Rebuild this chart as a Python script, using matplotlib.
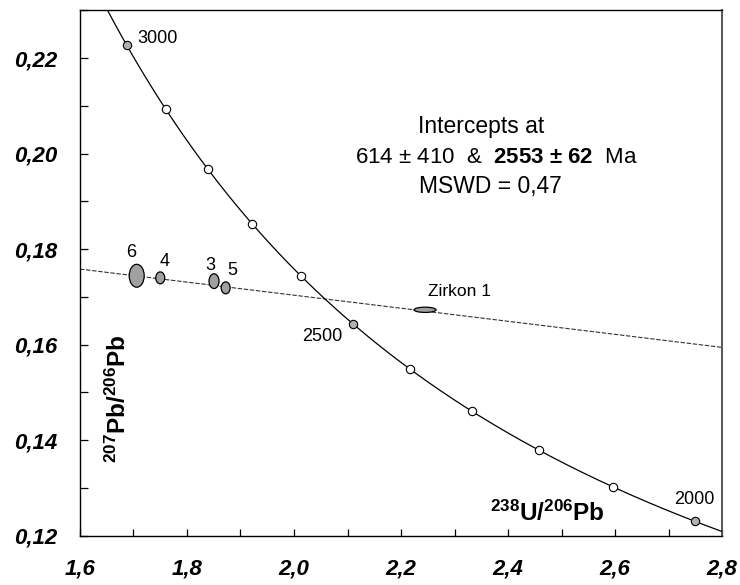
import numpy as np
import matplotlib
matplotlib.use("Agg")
import matplotlib.pyplot as plt
from matplotlib.patches import Ellipse
from matplotlib.ticker import MultipleLocator, FuncFormatter

plt.rcParams['font.family'] = ['Liberation Sans', 'DejaVu Sans']
plt.rcParams['mathtext.fontset'] = 'custom'
plt.rcParams['mathtext.rm'] = 'Liberation Sans'
plt.rcParams['mathtext.bf'] = 'Liberation Sans:bold'
plt.rcParams['mathtext.it'] = 'Liberation Sans:italic'

# ---- data ----
# decay constants (per Ma) and 238U/235U ratio used for the concordia curve
lambda238 = 1.55125e-4
lambda235 = 9.8485e-4
u_ratio = 137.88
concordia_ages = [2000, 2100, 2200, 2300, 2400, 2500, 2600, 2700, 2800, 2900, 3000]
labelled_ages = [2000, 2500, 3000]
curve_age_range = [1950, 3100]

# discordia line (x, y at the axis edges)
discordia_x = [1.6, 2.8]
discordia_y = [0.1758, 0.1594]

# analyses (error ellipses): centre x, centre y, full width, full height
spot_names = ['6', '4', '3', '5', 'Zirkon 1']
spot_x = [1.706, 1.750, 1.8505, 1.8723, 2.245]
spot_y = [0.1744, 0.17396, 0.17327, 0.17187, 0.16727]
spot_w = [0.028, 0.0168, 0.0187, 0.0168, 0.041]
spot_h = [0.0048, 0.0025, 0.0031, 0.0025, 0.0011]

x_ticks = [1.6, 1.8, 2.0, 2.2, 2.4, 2.6, 2.8]
y_ticks = [0.12, 0.14, 0.16, 0.18, 0.20, 0.22]


def concordia(t):
    t = np.asarray(t, dtype=float)
    e238 = np.exp(lambda238 * t) - 1.0
    e235 = np.exp(lambda235 * t) - 1.0
    return 1.0 / e238, e235 / e238 / u_ratio


fig = plt.figure(figsize=(7.4, 5.85), dpi=100)
ax = fig.add_axes([80 / 740, 1 - 535.5 / 585, 642 / 740, 525.2 / 585])

# concordia curve
ages_fine = np.linspace(curve_age_range[0], curve_age_range[1], 600)
cx, cy = concordia(ages_fine)
ax.plot(cx, cy, color='black', lw=0.9, zorder=3)

# discordia
ax.plot(discordia_x, discordia_y, color='#333333', lw=0.8,
        linestyle=(0, (4, 1.5)), zorder=2)

# age markers
mx, my = concordia(concordia_ages)
for a, x, y in zip(concordia_ages, mx, my):
    fc = '#b0b0b0' if a in labelled_ages else 'white'
    ax.plot([x], [y], 'o', ms=6, mfc=fc, mec='black', mew=0.8, zorder=5)

age_offsets = {3000: (22, 5), 2500: (-22, -9), 2000: (0, 16)}
for a in labelled_ages:
    x, y = concordia(a)
    ax.annotate(str(a), (x, y), xytext=age_offsets[a], textcoords='offset points',
                ha='center', va='center', fontsize=13, zorder=6)

# ellipses
label_offsets = [(-4, 16.5), (3.5, 12), (-2.5, 11.5), (5, 12.5), (25, 13)]
for name, x, y, w, h, off in zip(spot_names, spot_x, spot_y, spot_w, spot_h, label_offsets):
    e = Ellipse((x, y), w, h, facecolor='#a0a0a0', edgecolor='black', lw=0.9, zorder=4)
    ax.add_patch(e)
    ax.annotate(name, (x, y), xytext=off, textcoords='offset points',
                ha='center', va='center', fontsize=13 if name != 'Zirkon 1' else 12.5,
                zorder=6)

# result text
ax.text(2.3495, 0.2042, 'Intercepts at', ha='center', va='baseline', fontsize=16.5)
ax.text(2.3776, 0.19792, r'614 ± 410  &  $\mathbf{2553\ ±\ 62}$  Ma',
        ha='center', va='baseline', fontsize=16)
ax.text(2.3664, 0.19163, 'MSWD = 0,47', ha='center', va='baseline', fontsize=16.5)

# axis labels inside the plot
ax.text(2.474, 0.1231, r'${}^{\mathbf{238}}\mathbf{U/}{}^{\mathbf{206}}\mathbf{Pb}$',
        ha='center', va='baseline', fontsize=17.5)
ax.text(1.671, 0.1487, r'${}^{\mathbf{207}}\mathbf{Pb/}{}^{\mathbf{206}}\mathbf{Pb}$',
        ha='center', va='center', rotation=90, fontsize=17.5)

ax.set_xlim(1.6, 2.8)
ax.set_ylim(0.12, 0.23)
ax.set_xticks(x_ticks)
ax.set_yticks(y_ticks)
ax.xaxis.set_minor_locator(MultipleLocator(0.1))
ax.yaxis.set_minor_locator(MultipleLocator(0.01))
ax.xaxis.set_major_formatter(FuncFormatter(lambda v, p: f"{v:.1f}".replace('.', ',')))
ax.yaxis.set_major_formatter(FuncFormatter(lambda v, p: f"{v:.2f}".replace('.', ',')))

ax.tick_params(axis='x', which='both', direction='in', length=5, width=0.9, pad=16.5)
ax.tick_params(axis='y', which='both', direction='in', length=5.5, width=0.9, pad=16)
for lab in ax.get_xticklabels() + ax.get_yticklabels():
    lab.set_fontweight('bold')
    lab.set_fontstyle('italic')
    lab.set_fontsize(16)

for s in ['left', 'bottom', 'top', 'right']:
    ax.spines[s].set_linewidth(1.0)
    ax.spines[s].set_color('black')
ax.spines['right'].set_color('#555555')
ax.spines['right'].set_linewidth(1.4)

fig.savefig('out.png', dpi=100)
